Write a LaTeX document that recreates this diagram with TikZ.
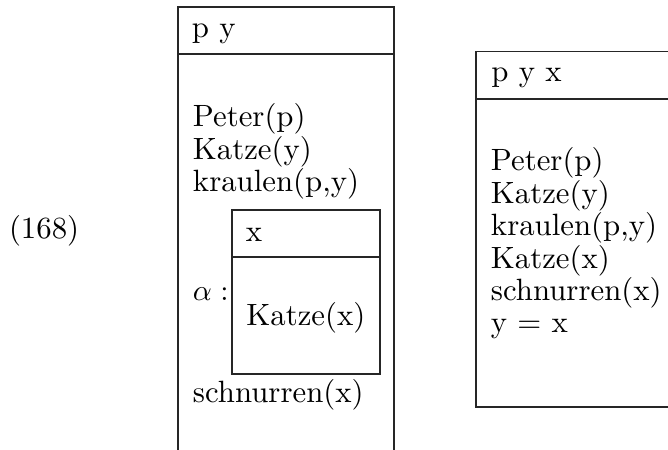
\documentclass[tikz,border=0pt]{standalone}
\begin{document}
\begin{tikzpicture}[x=0.3378pt,y=-0.3378pt,
  txt/.style={anchor=base west,inner sep=0pt,outer sep=0pt,font=\fontsize{10.4pt}{12.5pt}\selectfont},
  rule/.style={line width=0.4pt,draw=black!85}]
\useasboundingbox (0,0) rectangle (668,450);
% example number
\node[txt] (num) at (9,238.5) {(168)};
% left DRS
\draw[rule] (178,450) -- (178,7) -- (394,7) -- (394,450);
\draw[rule] (178,54) -- (394,54);
\node[txt] (lhead) at (192,38) {p y};
\node[txt] (l1) at (193,127) {Peter(p)};
\node[txt] (l2) at (193,159.5) {Katze(y)};
\node[txt] (l3) at (193,192) {kraulen(p,y)};
\node[txt] (alpha) at (193,301) {$\alpha:$};
\node[txt] (l5) at (193,403) {schnurren(x)};
% inner DRS
\draw[rule] (232,210) rectangle (380,374);
\draw[rule] (232,257) -- (380,257);
\node[txt] (ihead) at (246,241.5) {x};
\node[txt] (i1) at (246.5,326) {Katze(x)};
% right DRS
\draw[rule] (668,51.5) -- (476,51.5) -- (476,407) -- (668,407);
\draw[rule] (476,99) -- (668,99);
\node[txt] (rhead) at (491.5,82) {p y x};
\node[txt] (r1) at (491,171) {Peter(p)};
\node[txt] (r2) at (491,203.5) {Katze(y)};
\node[txt] (r3) at (491,236) {kraulen(p,y)};
\node[txt] (r4) at (491,268.5) {Katze(x)};
\node[txt] (r5) at (491,301) {schnurren(x)};
\node[txt] (r6) at (491,332.5) {y = x};
\end{tikzpicture}
\end{document}
